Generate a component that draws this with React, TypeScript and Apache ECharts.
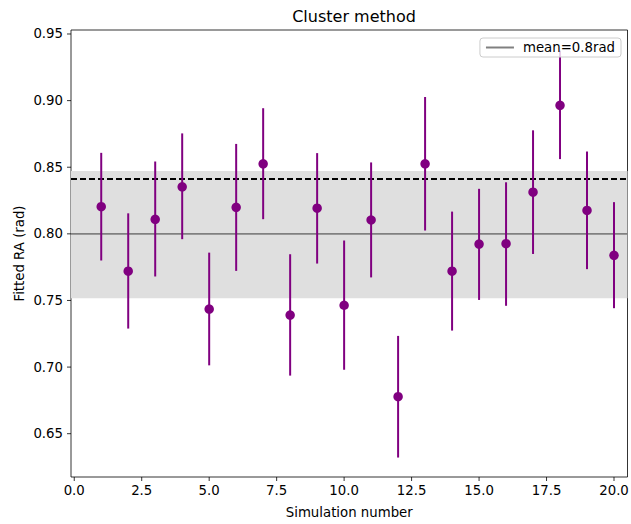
import React, { useEffect, useRef } from "react";
import * as echarts from "echarts";

const simulations = [1, 2, 3, 4, 5, 6, 7, 8, 9, 10, 11, 12, 13, 14, 15, 16, 17, 18, 19, 20];
const fittedRA = [0.8204, 0.772, 0.8109, 0.8353, 0.7435, 0.8199, 0.8526, 0.739, 0.8193, 0.7464, 0.8104, 0.6778, 0.8526, 0.772, 0.7923, 0.7926, 0.8313, 0.8965, 0.8176, 0.7839];
const errLow = [0.78, 0.7289, 0.768, 0.796, 0.7013, 0.7722, 0.811, 0.6936, 0.7777, 0.698, 0.7673, 0.6321, 0.8025, 0.7274, 0.7504, 0.746, 0.7849, 0.8561, 0.7735, 0.7442];
const errHigh = [0.8608, 0.8154, 0.8543, 0.8754, 0.7859, 0.8675, 0.8943, 0.7847, 0.8606, 0.795, 0.8536, 0.7234, 0.9027, 0.8167, 0.8338, 0.8387, 0.8777, 0.9375, 0.8618, 0.8238];
const meanValue = 0.8;
const bandLow = 0.7516;
const bandHigh = 0.8472;
const dashedValue = 0.8412;
const xTicks = [0, 2.5, 5, 7.5, 10, 12.5, 15, 17.5, 20];
const yTicks = [0.65, 0.7, 0.75, 0.8, 0.85, 0.9, 0.95];
const xMin = -0.12;
const xMax = 20.5;
const yMin = 0.6175;
const yMax = 0.953;

const FONT = "DejaVu Sans";
const FS = 13.3;

export default function App() {
  const ref = useRef<HTMLDivElement>(null);
  useEffect(() => {
    if (!ref.current) return;
    const chart = echarts.init(ref.current, null, { renderer: "svg" });
    const option: any = {
      animation: false,
      backgroundColor: "#ffffff",
      textStyle: { fontFamily: FONT },
      title: {
        text: "Cluster method",
        left: 349,
        top: 3,
        textAlign: "center",
        textStyle: { fontFamily: FONT, fontSize: 16, fontWeight: "normal", color: "#000" },
      },
      legend: {
        data: [{ name: "mean=0.8rad", icon: "rect" }],
        right: 10,
        top: 38,
        backgroundColor: "rgba(255,255,255,0.8)",
        borderColor: "#cccccc",
        borderWidth: 1,
        borderRadius: 3,
        padding: [3, 6, 3, 6],
        itemWidth: 28,
        itemHeight: 2,
        textStyle: { fontFamily: FONT, fontSize: FS, color: "#000", padding: [0, 0, 0, 4] },
      },
      grid: {
        left: 71,
        right: 3.5,
        top: 30,
        bottom: 43,
        show: true,
        borderColor: "#000",
        borderWidth: 0.8,
        backgroundColor: "transparent",
      },
      xAxis: {
        type: "value",
        min: xMin,
        max: xMax,
        name: "Simulation number",
        nameLocation: "middle",
        nameGap: 29,
        nameTextStyle: { fontFamily: FONT, fontSize: FS, color: "#000" },
        axisLine: { show: false },
        axisTick: { show: false },
        axisLabel: { show: false },
        splitLine: { show: false },
      },
      yAxis: {
        type: "value",
        min: yMin,
        max: yMax,
        name: "Fitted RA (rad)",
        nameLocation: "middle",
        nameGap: 45,
        nameTextStyle: { fontFamily: FONT, fontSize: FS, color: "#000" },
        axisLine: { show: false },
        axisTick: { show: false },
        axisLabel: { show: false },
        splitLine: { show: false },
      },
      series: [
        {
          name: "band",
          type: "line",
          data: [],
          silent: true,
          z: 1,
          markArea: {
            silent: true,
            itemStyle: { color: "#dfdfdf" },
            data: [[{ yAxis: bandLow }, { yAxis: bandHigh }]],
          },
        },
        {
          name: "mean=0.8rad",
          type: "line",
          data: [[xMin, meanValue], [xMax, meanValue]],
          symbol: "none",
          silent: true,
          z: 2,
          color: "#808080",
          itemStyle: { color: "#808080" },
          lineStyle: { color: "#808080", width: 1.8 },
        },
        {
          name: "dashed",
          type: "line",
          data: [[xMin, dashedValue], [xMax, dashedValue]],
          symbol: "none",
          silent: true,
          z: 2,
          lineStyle: { color: "#000", width: 2, type: [6, 3] },
        },
        {
          name: "errors",
          type: "custom",
          z: 3,
          silent: true,
          data: simulations.map((s, i) => [s, errLow[i], errHigh[i]]),
          renderItem: (params: any, api: any) => {
            const a = api.coord([api.value(0), api.value(1)]);
            const b = api.coord([api.value(0), api.value(2)]);
            return {
              type: "line",
              shape: { x1: a[0], y1: a[1], x2: b[0], y2: b[1] },
              style: { stroke: "#800080", lineWidth: 2 },
            };
          },
        },
        {
          name: "points",
          type: "scatter",
          z: 4,
          silent: true,
          symbolSize: 9.5,
          itemStyle: { color: "#800080", opacity: 1 },
          data: simulations.map((s, i) => [s, fittedRA[i]]),
        },
        {
          name: "xticks",
          type: "custom",
          z: 5,
          silent: true,
          data: xTicks.map((v) => [v, yMin]),
          renderItem: (params: any, api: any) => {
            const v = api.value(0);
            const p = api.coord([v, yMin]);
            return {
              type: "group",
              children: [
                { type: "line", shape: { x1: p[0], y1: p[1], x2: p[0], y2: p[1] + 4 }, style: { stroke: "#000", lineWidth: 0.8 } },
                {
                  type: "text",
                  x: p[0],
                  y: p[1] + 7,
                  style: { text: v.toFixed(1), fill: "#000", fontSize: FS, fontFamily: FONT, align: "center", verticalAlign: "top" },
                },
              ],
            };
          },
        },
        {
          name: "yticks",
          type: "custom",
          z: 5,
          silent: true,
          data: yTicks.map((v) => [xMin, v]),
          renderItem: (params: any, api: any) => {
            const v = api.value(1);
            const p = api.coord([xMin, v]);
            return {
              type: "group",
              children: [
                { type: "line", shape: { x1: p[0], y1: p[1], x2: p[0] - 4, y2: p[1] }, style: { stroke: "#000", lineWidth: 0.8 } },
                {
                  type: "text",
                  x: p[0] - 8,
                  y: p[1],
                  style: { text: v.toFixed(2), fill: "#000", fontSize: FS, fontFamily: FONT, align: "right", verticalAlign: "middle" },
                },
              ],
            };
          },
        },
      ],
    };
    chart.setOption(option);
    return () => chart.dispose();
  }, []);
  return (
    <div
      ref={ref}
      style={{ position: "fixed", left: 0, top: 0, width: 631, height: 524, background: "#fff" }}
    />
  );
}
